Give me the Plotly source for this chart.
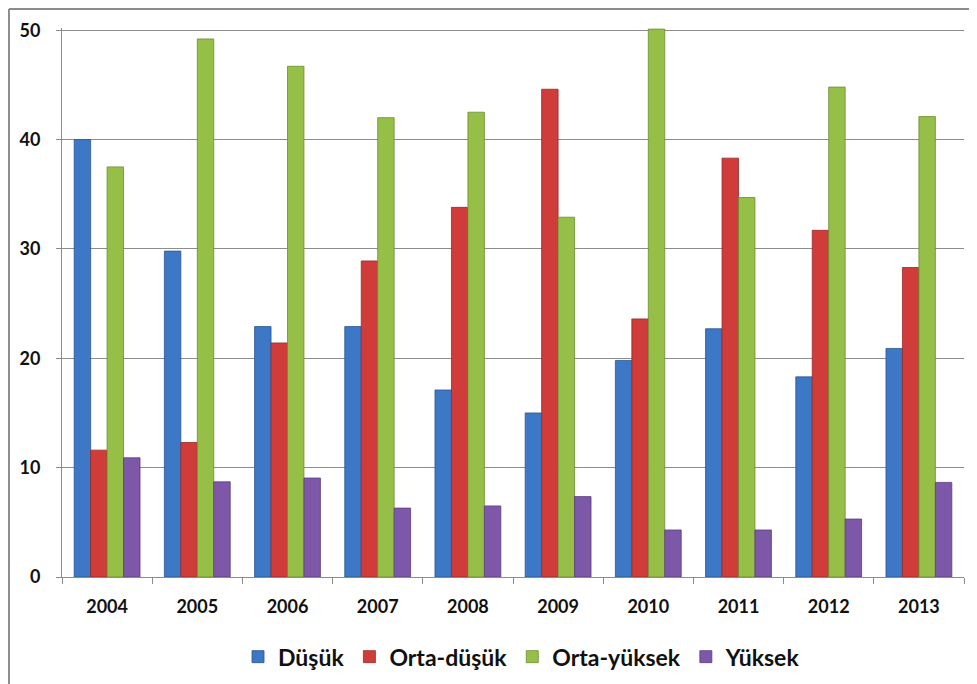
import plotly.graph_objects as go

# data
years = ["2004", "2005", "2006", "2007", "2008", "2009", "2010", "2011", "2012", "2013"]
dusuk = [40.0, 29.8, 22.9, 22.9, 17.1, 15.0, 19.8, 22.7, 18.3, 20.9]
orta_dusuk = [11.6, 12.3, 21.4, 28.9, 33.8, 44.6, 23.6, 38.3, 31.7, 28.3]
orta_yuksek = [37.5, 49.2, 46.7, 42.0, 42.5, 32.9, 50.1, 34.7, 44.8, 42.1]
yuksek = [10.9, 8.7, 9.05, 6.3, 6.5, 7.35, 4.3, 4.3, 5.3, 8.65]

series = [
    ("Düşük", dusuk, "#3C78C6", "#2A5690"),
    ("Orta-düşük", orta_dusuk, "#D03C3A", "#96292A"),
    ("Orta-yüksek", orta_yuksek, "#96BF48", "#6C8C30"),
    ("Yüksek", yuksek, "#7D58A8", "#5A3E7C"),
]

fig = go.Figure()
for name, vals, color, edge in series:
    fig.add_trace(go.Bar(
        x=years,
        y=vals,
        name=name,
        marker=dict(color=color, line=dict(color=edge, width=0.8)),
    ))

font_family = "Lato, 'Open Sans', sans-serif"

# the page body adds an 8px offset, so the figure is sized to end at the window edge
fig.update_layout(
    width=969,
    height=676,
    barmode="group",
    bargap=0.27,
    bargroupgap=0,
    paper_bgcolor="white",
    plot_bgcolor="white",
    margin=dict(l=54, r=13, t=20, b=107, autoexpand=False),
    font=dict(family=font_family, color="#111111"),
    legend=dict(
        orientation="h",
        x=0.51,
        xanchor="center",
        y=-0.106,
        yanchor="top",
        font=dict(size=23, family=font_family, weight="bold"),
        itemwidth=30,
        traceorder="normal",
    ),
    xaxis=dict(
        type="category",
        automargin=False,
        showgrid=False,
        showline=True,
        linecolor="#8C8C8C",
        linewidth=1,
        ticks="outside",
        tickson="boundaries",
        ticklen=6,
        tickcolor="#8C8C8C",
        ticklabelstandoff=13,
        tickfont=dict(size=18, family=font_family, weight="bold"),
    ),
    yaxis=dict(
        range=[0, 50.2],
        automargin=False,
        tickvals=[0, 10, 20, 30, 40, 50],
        showgrid=True,
        gridcolor="#8C8C8C",
        gridwidth=1,
        showline=True,
        linecolor="#8C8C8C",
        linewidth=1,
        ticks="outside",
        ticklen=5,
        tickcolor="#8C8C8C",
        zeroline=False,
        ticklabelstandoff=12,
        tickfont=dict(size=18, family=font_family, weight="bold"),
    ),
    shapes=[
        # outer chart frame (cut off at right and bottom in the reference)
        dict(type="line", xref="paper", yref="paper",
             x0=-0.0588, x1=1.02, y0=1.0346, y1=1.0346,
             line=dict(color="#8C8C8C", width=2)),
        dict(type="line", xref="paper", yref="paper",
             x0=-0.0588, x1=-0.0588, y0=1.0346, y1=-0.2,
             line=dict(color="#8C8C8C", width=2)),
    ],
)

fig.write_html("out.html")
